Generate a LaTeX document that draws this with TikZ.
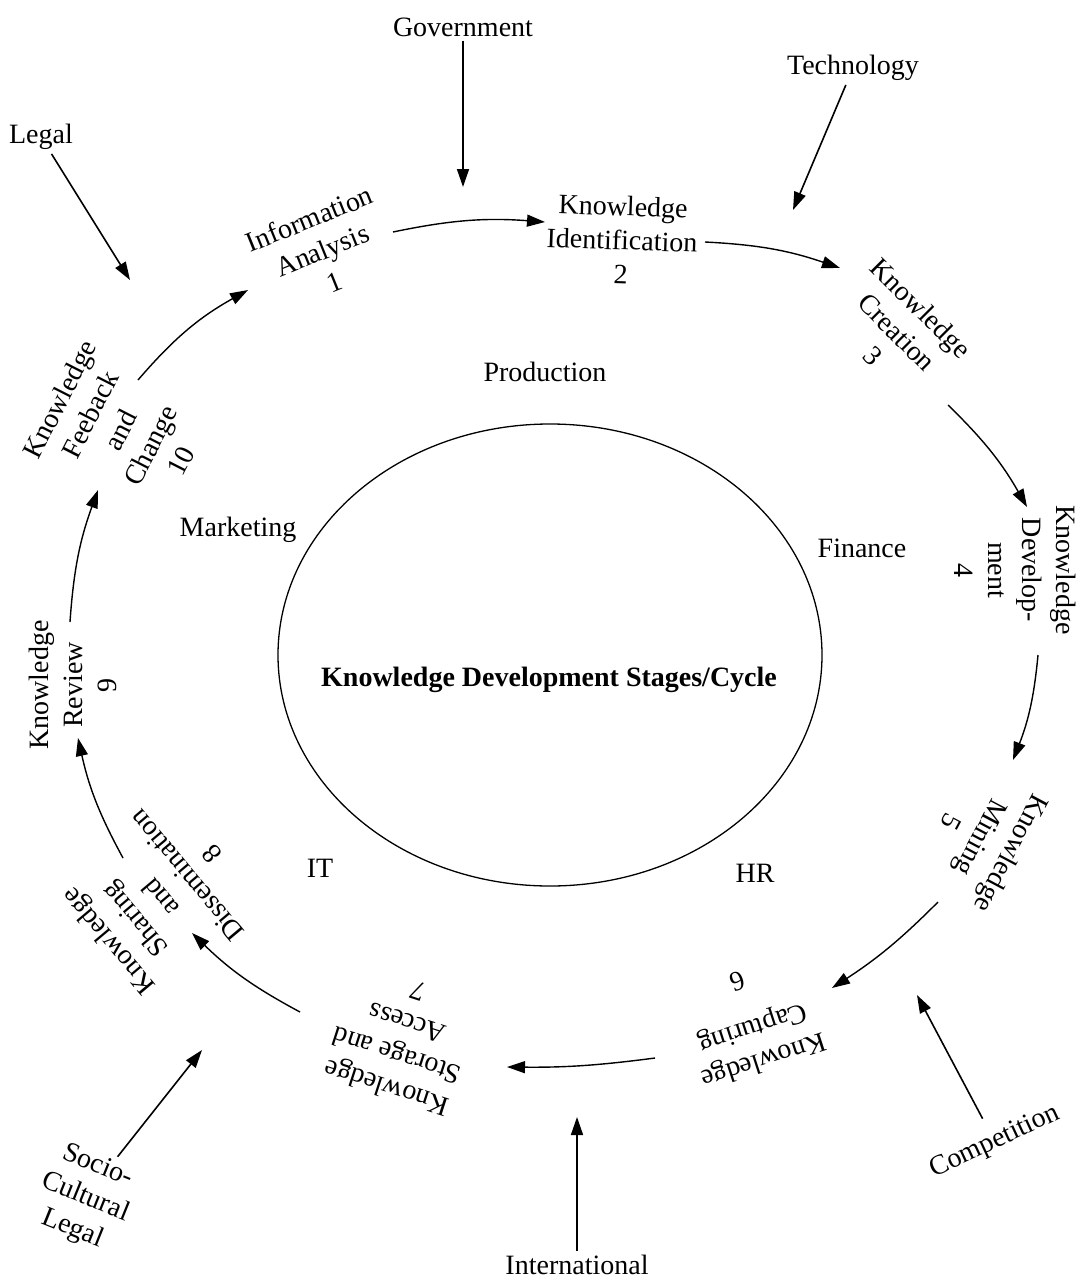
\documentclass[tikz,border=0pt]{standalone}
\usepackage{fontspec}
\setmainfont{Liberation Serif}
\usetikzlibrary{arrows.meta}
\begin{document}
\begin{tikzpicture}[x=1pt,y=-1pt,
  lbl/.style={font=\fontsize{28}{34}\selectfont, align=center, inner sep=2pt},
  stage/.style={lbl},
  factor/.style={lbl, inner sep=4pt},
  cyc/.style={line width=1.4pt, -{Triangle[length=18pt,width=12pt]}},
  ext/.style={line width=1.6pt, -{Triangle[length=18pt,width=12pt]}},
]
% page
\fill[white] (0,0) rectangle (1084,1285);
\useasboundingbox (0,0) rectangle (1084,1285);

% central ellipse and its title
\draw[line width=1.3pt] (550,655) ellipse [x radius=272, y radius=231];
\node[lbl, font=\fontsize{28}{34}\selectfont\bfseries] (title) at (549,680) {Knowledge Development Stages/Cycle};

% functional areas
\node[lbl] (prod) at (545,372) {Production};
\node[lbl] (mkt)  at (238,530) {Marketing};
\node[lbl] (fin)  at (862,548) {Finance};
\node[lbl] (it)   at (320,868) {IT};
\node[lbl] (hr)   at (755,873) {HR};

% the ten stages, set tangentially round the ring
\node[stage, rotate=22]   (s1)  at (322,250)  {Information\\Analysis\\1};
\node[stage, rotate=-2]   (s2)  at (622,240)  {Knowledge\\Identification\\2};
\node[stage, rotate=-45]  (s3)  at (897,332)  {Knowledge\\Creation\\3};
\node[stage, rotate=-90]  (s4)  at (1015,570) {Knowledge\\Develop-\\ment\\4};
\node[stage, rotate=-118] (s5)  at (982,838)  {Knowledge\\Mining\\5};
\node[stage, rotate=198]  (s6)  at (751,1022) {Knowledge\\Capturing\\[16pt]6};
\node[stage, rotate=162]  (s7)  at (402,1040) {Knowledge\\Storage and\\Access\\7};
\node[stage, rotate=130]  (s8)  at (160,898)  {Knowledge\\Sharing\\and\\Dissemination\\8};
\node[stage, rotate=90]   (s9)  at (73,685)   {Knowledge\\Review\\9};
\node[stage, rotate=63]   (s10) at (120,430)  {Knowledge\\Feeback\\and\\Change\\10};

% ports of the cycle arrows
\coordinate (o10) at (138,380);  \coordinate (i1)  at (248,290);
\coordinate (o1)  at (393,232);  \coordinate (i2)  at (545,222);
\coordinate (o2)  at (705,242);  \coordinate (i3)  at (840,268);
\coordinate (o3)  at (948,405);  \coordinate (i4)  at (1027,507);
\coordinate (o4)  at (1038,655); \coordinate (i5)  at (1013,760);
\coordinate (o5)  at (938,902);  \coordinate (i6)  at (832,988);
\coordinate (o6)  at (655,1058); \coordinate (i7)  at (507,1067);
\coordinate (o7)  at (300,1012); \coordinate (i8)  at (192,933);
\coordinate (o8)  at (123,858);  \coordinate (i9)  at (78,738);
\coordinate (o9)  at (70,622);   \coordinate (i10) at (98,490);

% the cycle
\draw[cyc] (o10) to[bend left=10] (i1);
\draw[cyc] (o1)  to[bend left=8]  (i2);
\draw[cyc] (o2)  to[bend left=8]  (i3);
\draw[cyc] (o3)  to[bend left=8]  (i4);
\draw[cyc] (o4)  to[bend left=8]  (i5);
\draw[cyc] (o5)  to[bend left=6]  (i6);
\draw[cyc] (o6)  to[bend left=4]  (i7);
\draw[cyc] (o7)  to[bend left=8]  (i8);
\draw[cyc] (o8)  to[bend left=8]  (i9);
\draw[cyc] (o9)  to[bend left=8]  (i10);

% external factors
\node[factor] (gov)  at (463,27)   {Government};
\node[factor] (tech) at (853,68)   {Technology};
\node[factor] (legal) at (41,137)  {Legal};
\node[factor, rotate=-22] (socio) at (85,1198) {Socio-\\Cultural\\Legal};
\node[factor] (intl) at (577,1265) {International};
\node[factor, rotate=25] (comp) at (995,1142) {Competition};

\coordinate (govtip)   at (463,187);
\coordinate (techtip)  at (793,210);
\coordinate (legaltip) at (130,280);
\coordinate (sociotip) at (202,1050);
\coordinate (intltip)  at (577,1117);
\coordinate (comptip)  at (917,995);

\draw[ext] (gov)   -- (govtip);
\draw[ext] (tech)  -- (techtip);
\draw[ext] (legal) -- (legaltip);
\draw[ext] (socio) -- (sociotip);
\draw[ext] (intl)  -- (intltip);
\draw[ext, shorten <=10pt] (comp) -- (comptip);
\end{tikzpicture}
\end{document}
